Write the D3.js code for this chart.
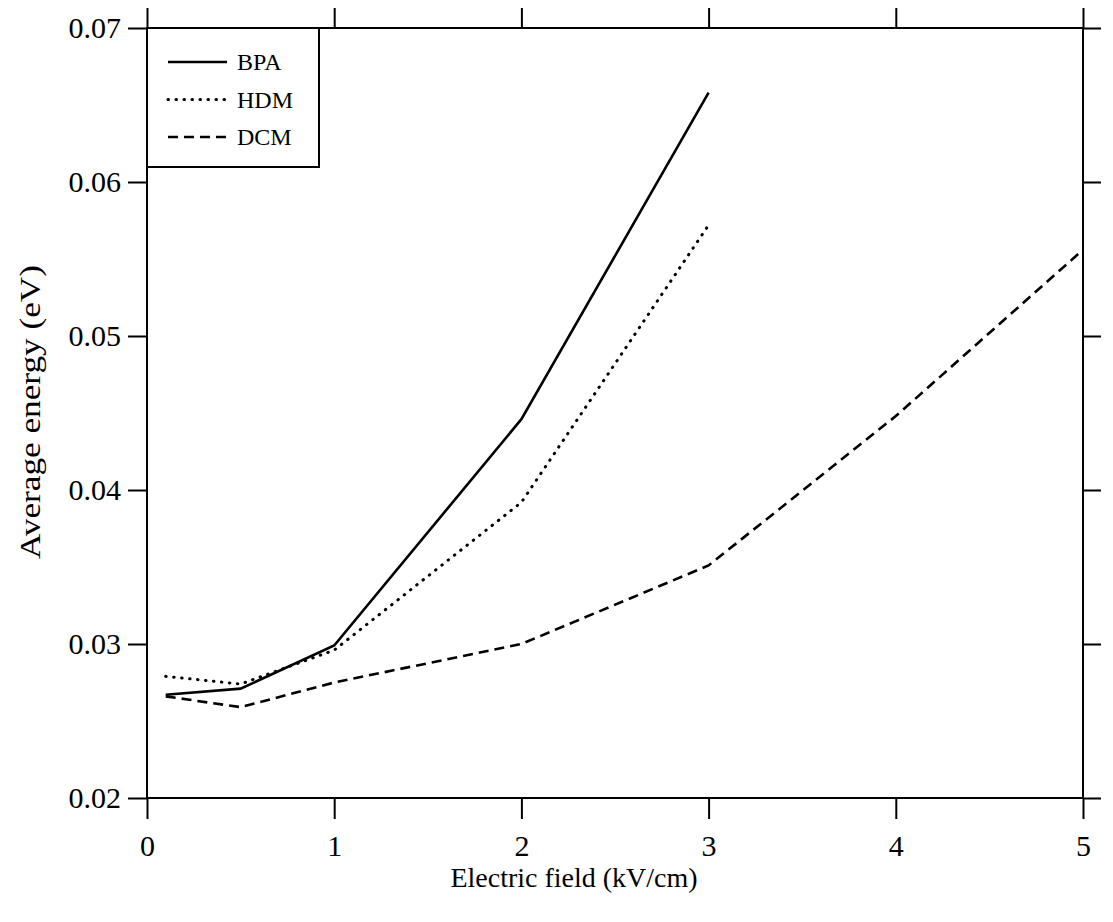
<!DOCTYPE html>
<html>
<head>
<meta charset="utf-8">
<script src="https://cdn.jsdelivr.net/npm/d3@7"></script>
<style>
  body { margin: 0; background: #fff; }
  svg { display: block; }
</style>
</head>
<body>
<div id="chart"></div>
<script>
// field values (kV/cm)
const fieldBPA = [0.1, 0.5, 1, 2, 3];
const energyBPA = [0.0267, 0.0271, 0.0299, 0.0446, 0.0658];

const fieldHDM = [0.1, 0.5, 1, 2, 3];
const energyHDM = [0.0279, 0.0274, 0.0296, 0.0392, 0.0572];

const fieldDCM = [0.1, 0.5, 1, 2, 3, 4, 5];
const energyDCM = [0.0266, 0.0259, 0.0275, 0.0300, 0.0351, 0.0448, 0.0556];

const xTicks = [0, 1, 2, 3, 4, 5];
const yTicks = [0.02, 0.03, 0.04, 0.05, 0.06, 0.07];
const seriesNames = ['BPA', 'HDM', 'DCM'];

const width = 1113;
const height = 922;
const marginLeft = 147, plotRight = 1083, plotTop = 28, plotBottom = 798;

const dashes = { BPA: null, HDM: '0.5,7.5', DCM: '10,6' };

const series = [
  { name: 'BPA', pts: fieldBPA.map((f, i) => ({ x: f, y: energyBPA[i] })) },
  { name: 'HDM', pts: fieldHDM.map((f, i) => ({ x: f, y: energyHDM[i] })) },
  { name: 'DCM', pts: fieldDCM.map((f, i) => ({ x: f, y: energyDCM[i] })) },
];

const x = d3.scaleLinear([0, 5], [marginLeft, plotRight]);
const y = d3.scaleLinear([0.02, 0.07], [plotBottom, plotTop]);

const svg = d3.select('#chart')
  .append('svg')
  .attr('width', width)
  .attr('height', height)
  .style('font-family', '"Liberation Serif", "Times New Roman", serif');

function styleAxis(g) {
  g.attr('font-family', null).attr('font-size', null);
  g.select('.domain').remove();
  g.selectAll('.tick line').attr('stroke', '#000').attr('stroke-width', 2);
  g.selectAll('.tick text')
    .attr('fill', '#000')
    .style('font-family', '"Liberation Serif", serif')
    .style('font-size', '30px');
}

// bottom axis with labels
svg.append('g')
  .attr('transform', `translate(0,${plotBottom})`)
  .call(d3.axisBottom(x).tickValues(xTicks).tickSizeInner(21).tickSizeOuter(0)
    .tickPadding(16).tickFormat(d3.format('d')))
  .call(styleAxis);

// top axis, ticks only
svg.append('g')
  .attr('transform', `translate(0,${plotTop})`)
  .call(d3.axisTop(x).tickValues(xTicks).tickSizeInner(20).tickSizeOuter(0).tickFormat(''))
  .call(styleAxis);

// left axis with labels
svg.append('g')
  .attr('transform', `translate(${marginLeft},0)`)
  .call(d3.axisLeft(y).tickValues(yTicks).tickSizeInner(19).tickSizeOuter(0)
    .tickPadding(7).tickFormat(d3.format('.2f')))
  .call(styleAxis);

// right axis, ticks only
svg.append('g')
  .attr('transform', `translate(${plotRight},0)`)
  .call(d3.axisRight(y).tickValues(yTicks).tickSizeInner(18).tickSizeOuter(0).tickFormat(''))
  .call(styleAxis);

// frame
svg.append('rect')
  .attr('x', marginLeft)
  .attr('y', plotTop)
  .attr('width', plotRight - marginLeft)
  .attr('height', plotBottom - plotTop)
  .attr('fill', 'none')
  .attr('stroke', '#000')
  .attr('stroke-width', 2);

// curves
const line = d3.line().x((d) => x(d.x)).y((d) => y(d.y));

svg.append('g')
  .selectAll('path')
  .data(series)
  .join('path')
  .attr('d', (d) => line(d.pts))
  .attr('fill', 'none')
  .attr('stroke', '#000')
  .attr('stroke-width', (d) => (d.name === 'HDM' ? 3 : 2.6))
  .attr('stroke-dasharray', (d) => dashes[d.name])
  .attr('stroke-linecap', (d) => (d.name === 'HDM' ? 'round' : 'butt'));

// axis titles
svg.append('text')
  .attr('x', (marginLeft + plotRight) / 2 - 41)
  .attr('y', 887)
  .attr('text-anchor', 'middle')
  .style('font-size', '28px')
  .text('Electric field (kV/cm)');

svg.append('text')
  .attr('transform', 'translate(40,412) rotate(-90)')
  .attr('text-anchor', 'middle')
  .attr('textLength', 294)
  .attr('lengthAdjust', 'spacingAndGlyphs')
  .style('font-size', '29px')
  .text('Average energy (eV)');

// legend
const legend = svg.append('g');
legend.append('rect')
  .attr('x', marginLeft)
  .attr('y', plotTop)
  .attr('width', 172)
  .attr('height', 139)
  .attr('fill', '#fff')
  .attr('stroke', '#000')
  .attr('stroke-width', 2);

const rowY = d3.scalePoint(seriesNames, [62, 137]);
const items = legend.selectAll('g.item')
  .data(seriesNames)
  .join('g')
  .attr('class', 'item')
  .attr('transform', (d) => `translate(0,${rowY(d)})`);

items.append('line')
  .attr('x1', 168)
  .attr('x2', 227)
  .attr('stroke', '#000')
  .attr('stroke-width', (d) => (d === 'HDM' ? 3 : 2.6))
  .attr('stroke-dasharray', (d) => dashes[d])
  .attr('stroke-linecap', (d) => (d === 'HDM' ? 'round' : 'butt'));

items.append('text')
  .attr('x', 237)
  .attr('dy', '0.35em')
  .style('font-size', '24px')
  .text((d) => d);
</script>
</body>
</html>
